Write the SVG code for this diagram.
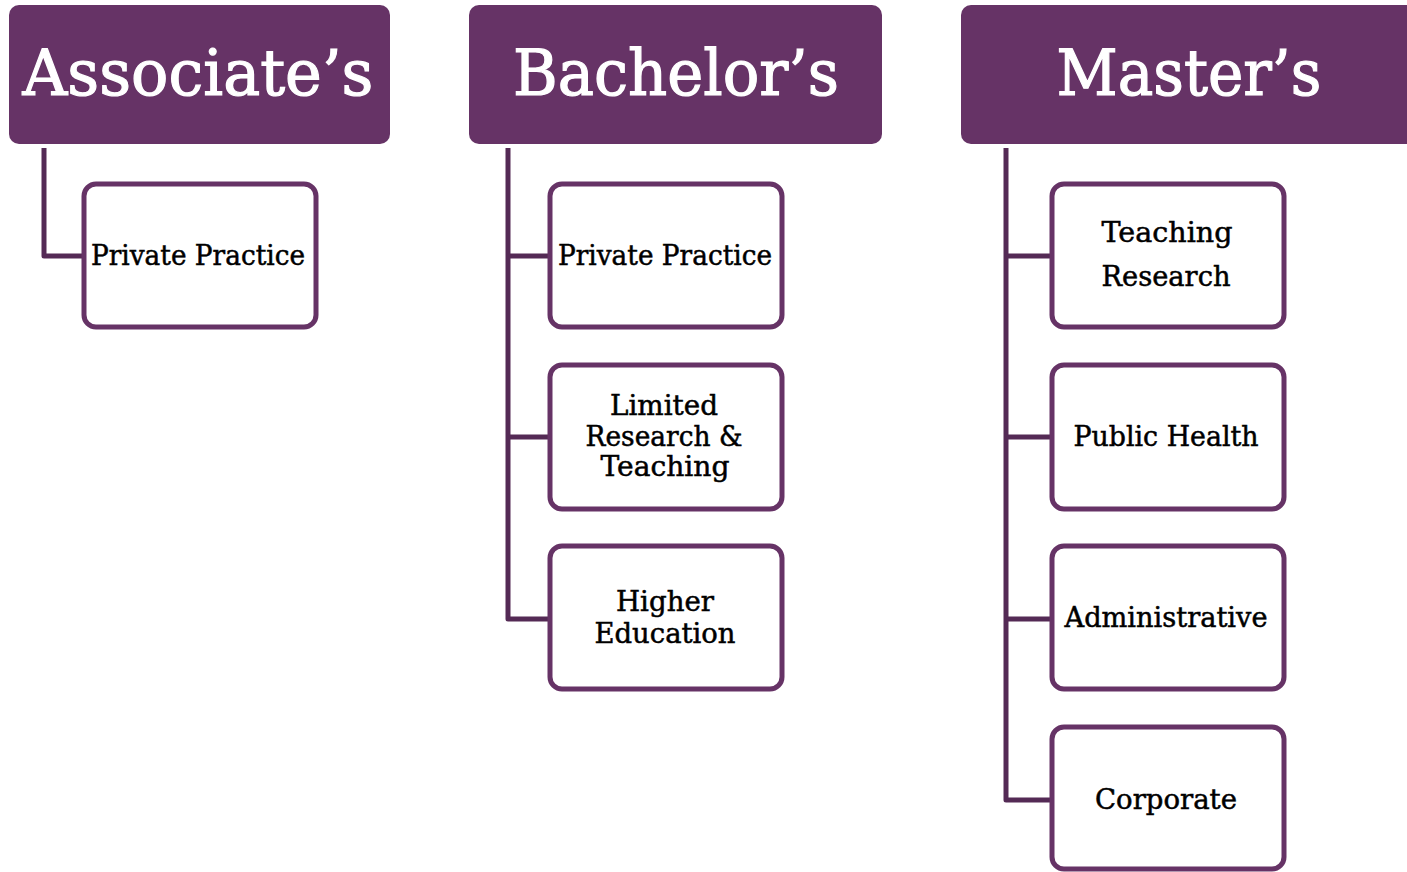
<svg xmlns="http://www.w3.org/2000/svg" width="1407" height="872" viewBox="0 0 1407 872">
<style>
.hdr{fill:#663366}
.hdrt{fill:#ffffff;stroke:#ffffff;stroke-width:1.2;font-family:"DejaVu Serif","Liberation Serif",serif;font-size:63px;text-anchor:middle}
.box{fill:#ffffff;stroke:#663366;stroke-width:5}
.t{fill:#000000;stroke:#000000;stroke-width:0.5;font-family:"DejaVu Serif","Liberation Serif",serif;font-size:27px;text-anchor:middle}
.con{fill:none;stroke:#542a55;stroke-width:5;stroke-linejoin:round}
</style>
<rect width="1407" height="872" fill="#ffffff"/>
<g id="connectors">
<path class="con" d="M44,148 V256 H84"/>
<path class="con" d="M508,148 V619 H549 M508,256 H549 M508,437 H549"/>
<path class="con" d="M1006,148 V800 H1051 M1006,256 H1051 M1006,437 H1051 M1006,619 H1051"/>
</g>
<g id="associates">
<rect class="hdr" x="9" y="5" width="381" height="139" rx="10"/>
<text class="hdrt" x="198" y="95" textLength="351" lengthAdjust="spacingAndGlyphs">Associate’s</text>
</g>
<g id="bachelors">
<rect class="hdr" x="469" y="5" width="413" height="139" rx="10"/>
<text class="hdrt" x="676" y="95" textLength="326" lengthAdjust="spacingAndGlyphs">Bachelor’s</text>
</g>
<g id="masters">
<rect class="hdr" x="961" y="5" width="470" height="139" rx="10"/>
<text class="hdrt" x="1189" y="95" textLength="265" lengthAdjust="spacingAndGlyphs">Master’s</text>
</g>
<g id="a-private">
<rect class="box" x="84" y="184" width="232" height="143" rx="12"/>
<text class="t" x="198" y="265" textLength="214" lengthAdjust="spacingAndGlyphs">Private Practice</text>
</g>
<g id="b-private">
<rect class="box" x="550" y="184" width="232" height="143" rx="12"/>
<text class="t" x="665" y="265" textLength="214" lengthAdjust="spacingAndGlyphs">Private Practice</text>
</g>
<g id="b-limited">
<rect class="box" x="550" y="365" width="232" height="144" rx="12"/>
<text class="t" x="664" y="415" textLength="108" lengthAdjust="spacingAndGlyphs">Limited</text>
<text class="t" x="664" y="446" textLength="157" lengthAdjust="spacingAndGlyphs">Research &amp;</text>
<text class="t" x="665" y="476" textLength="129" lengthAdjust="spacingAndGlyphs">Teaching</text>
</g>
<g id="b-higher">
<rect class="box" x="550" y="546" width="232" height="143" rx="12"/>
<text class="t" x="665" y="611" textLength="98" lengthAdjust="spacingAndGlyphs">Higher</text>
<text class="t" x="665" y="643" textLength="141" lengthAdjust="spacingAndGlyphs">Education</text>
</g>
<g id="m-teaching">
<rect class="box" x="1052" y="184" width="232" height="143" rx="12"/>
<text class="t" x="1167" y="242" textLength="131" lengthAdjust="spacingAndGlyphs">Teaching</text>
<text class="t" x="1166" y="286" textLength="129" lengthAdjust="spacingAndGlyphs">Research</text>
</g>
<g id="m-public">
<rect class="box" x="1052" y="365" width="232" height="144" rx="12"/>
<text class="t" x="1166" y="446" textLength="185" lengthAdjust="spacingAndGlyphs">Public Health</text>
</g>
<g id="m-admin">
<rect class="box" x="1052" y="546" width="232" height="143" rx="12"/>
<text class="t" x="1166" y="627" textLength="203" lengthAdjust="spacingAndGlyphs">Administrative</text>
</g>
<g id="m-corporate">
<rect class="box" x="1052" y="727" width="232" height="142" rx="12"/>
<text class="t" x="1166" y="809" textLength="142" lengthAdjust="spacingAndGlyphs">Corporate</text>
</g>
</svg>
